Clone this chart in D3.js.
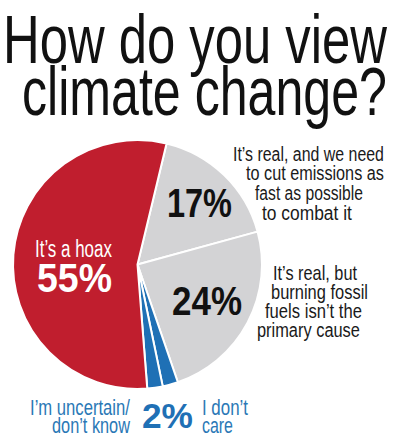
<!DOCTYPE html>
<html>
<head>
<meta charset="utf-8">
<script src="https://cdn.jsdelivr.net/npm/d3@7"></script>
<style>
  html, body { margin: 0; padding: 0; background: #ffffff; }
  svg { display: block; }
</style>
</head>
<body>
<svg id="chart" width="400" height="439"></svg>
<script>
// ---- Data ----
const titleLines = ["How do you view", "climate change?"];
const categories = [
  "It's real, and we need to cut emissions as fast as possible to combat it",
  "It's real, but burning fossil fuels isn't the primary cause",
  "I'm uncertain/ don't know",
  "I don't care",
  "It's a hoax"
];
const values = [17, 24, 2, 2, 55];
const valueLabels = ["17%", "24%", "2%", "2%", "55%"];
const sliceColors = ["#d3d3d5", "#d3d3d5", "#1f70b5", "#1f70b5", "#c01e2e"];

// ---- Layout ----
const W = 400, H = 439;
const cx = 137.5, cy = 264.5, R = 124.5;
const startDeg = 13.5;
const FONT = "'Liberation Sans', Arial, sans-serif";

const svg = d3.select("#chart");
svg.append("rect").attr("width", W).attr("height", H).attr("fill", "#ffffff");

// text squeezed horizontally to a target width (condensed look)
function txt(x, y, s, size, weight, fill, width) {
  const t = svg.append("text")
    .attr("x", 0).attr("y", 0)
    .attr("font-family", FONT)
    .attr("font-size", size)
    .attr("font-weight", weight)
    .attr("fill", fill)
    .text(s);
  const natural = t.node().getComputedTextLength();
  const sx = width / natural;
  t.attr("transform", `translate(${x},${y}) scale(${sx},1)`);
  return t;
}

// Title
txt(3, 63, titleLines[0], 68, 400, "#111", 384);
txt(22, 115, titleLines[1], 68, 400, "#111", 365);

// Pie
const rad = d => d * Math.PI / 180;
const pie = d3.pie().sort(null).value(d => d)
  .startAngle(rad(startDeg)).endAngle(rad(startDeg + 360));
const arc = d3.arc().innerRadius(0).outerRadius(R);
const g = svg.append("g").attr("transform", `translate(${cx},${cy})`);
g.selectAll("path").data(pie(values)).join("path")
  .attr("d", arc)
  .attr("fill", (d, i) => sliceColors[i])
  .attr("stroke", "#ffffff")
  .attr("stroke-width", 2)
  .attr("stroke-linejoin", "round");

// Percent labels
txt(167, 217, valueLabels[0], 40, 700, "#111", 65);
txt(172, 315, valueLabels[1], 41, 700, "#111", 70);
txt(37, 292, valueLabels[4], 41, 700, "#ffffff", 75);
txt(142, 428, valueLabels[2], 36, 700, "#1f70b5", 51);

// Red label
txt(35, 257, "It\u2019s a hoax", 23, 400, "#ffffff", 77);

// Right labels
const lab1 = [
  ["It\u2019s real, and we need", 233, 161, 151],
  ["to cut emissions as", 246, 180, 138],
  ["fast as possible", 255, 200, 108],
  ["to combat it", 262, 220, 90]
];
lab1.forEach(l => txt(l[1], l[2], l[0], 21, 400, "#1a1a1a", l[3]));
const lab2 = [
  ["It\u2019s real, but", 273, 280, 84],
  ["burning fossil", 271, 299, 97],
  ["fuels isn\u2019t the", 265, 318, 97],
  ["primary cause", 257, 337, 103]
];
lab2.forEach(l => txt(l[1], l[2], l[0], 21, 400, "#1a1a1a", l[3]));

// Bottom labels
const blue = "#2a78b6";
txt(30, 415, "I\u2019m uncertain/", 22, 400, blue, 100);
txt(52, 433, "don\u2019t know", 22, 400, blue, 78);
txt(202, 415, "I don\u2019t", 22, 400, blue, 46);
txt(202, 433, "care", 22, 400, blue, 31);
</script>
</body>
</html>
